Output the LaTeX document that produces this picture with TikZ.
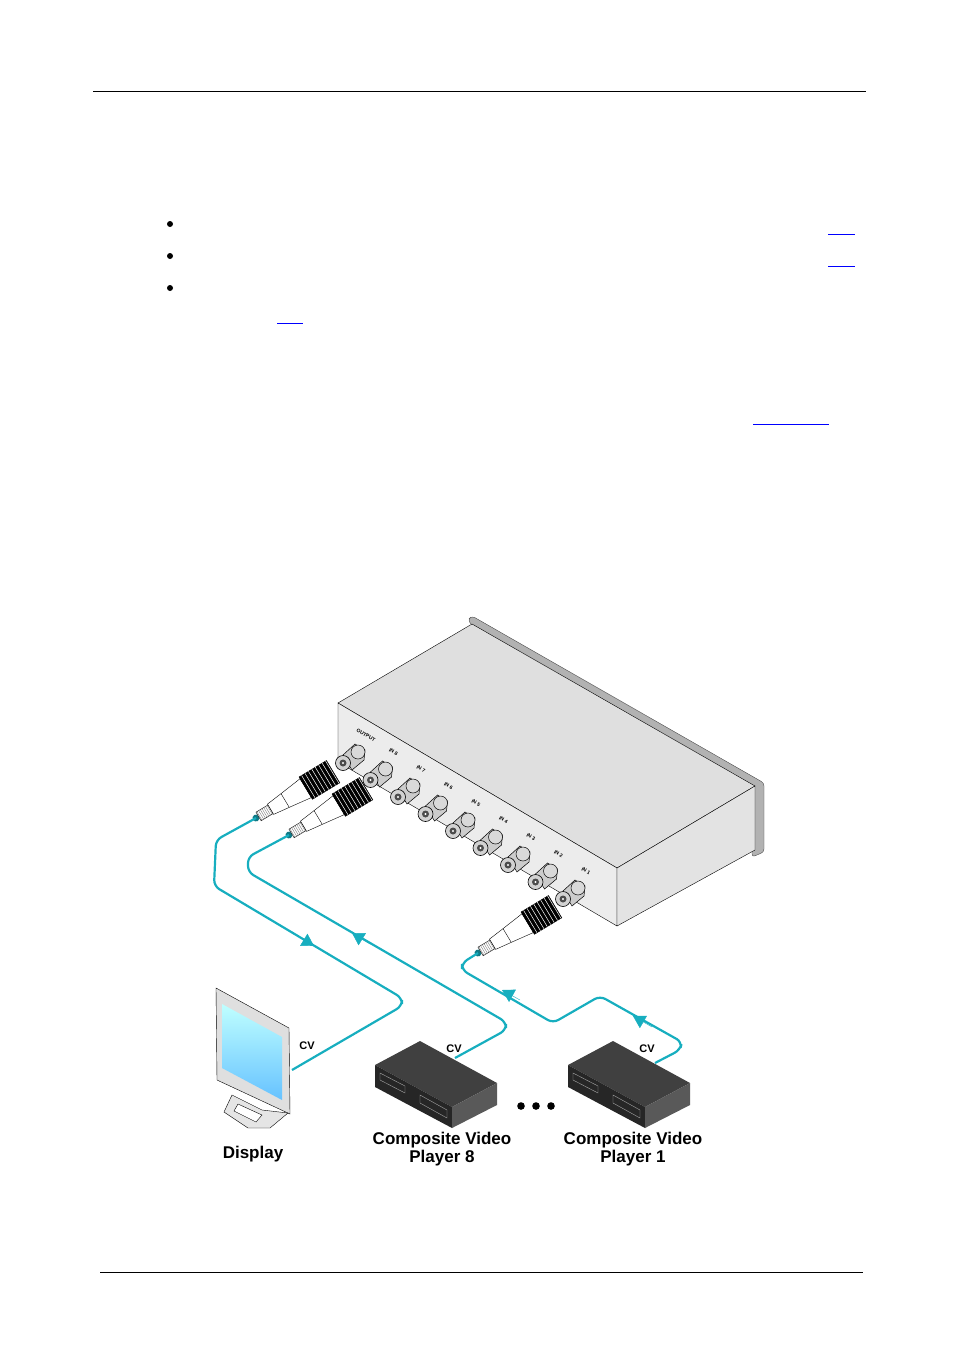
\documentclass[tikz,border=0pt]{standalone}
\usepackage{fontspec}
\setmainfont{Liberation Sans}
\usetikzlibrary{arrows.meta, positioning}
\definecolor{cvcable}{HTML}{17AEBF}
\definecolor{linkblue}{HTML}{0000FF}

\tikzset{
  cable/.style={cvcable, line width=2.2pt, rounded corners=6pt},
  flow/.style={cvcable, -{Triangle[length=12pt,width=14pt]}},
  jack/.style={circle, draw=black, fill=gray!35, line width=0.6pt, minimum size=15pt, inner sep=0pt},
  portlbl/.style={font=\bfseries\fontsize{5}{5}\selectfont, rotate=-30},
  cvlbl/.style={font=\bfseries\fontsize{11}{11}\selectfont},
  caption/.style={font=\bfseries\fontsize{17}{18}\selectfont, align=center},
}
\newcommand{\bncplug}[2]{%
  \begin{scope}[shift={#1}, rotate=#2]
    \fill[cvcable!70!black] (0,0) circle (3.5);
    \draw[fill=white] (3,-5) rectangle (17,5);
    \foreach \k in {4,6,...,16} \draw[gray] (\k,-5) -- (\k,5);
    \draw[fill=white] (17,-6) -- (34,-8) -- (58,-11) -- (58,11) -- (34,8) -- (17,6) -- cycle;
    \draw (34,-8) -- (34,8);
    \draw[fill=black] (58,-13) rectangle (90,13);
    \foreach \k in {61,65,...,89} \draw[white, line width=0.5pt] (\k,-13) -- (\k,13);
  \end{scope}}
\newcommand{\player}[2]{%
  \begin{scope}[shift={#1}]
    \fill[black!75] (0,25) -- (45,1) -- (122,43) -- (77,67) -- cycle;
    \fill[black!85] (0,25) -- (77,67) -- (77,88) -- (0,47) -- cycle;
    \fill[black!65] (77,67) -- (122,43) -- (122,65) -- (77,88) -- cycle;
    \draw[gray!70] (5,33) -- (30,46) -- (30,53) -- (5,40) -- cycle;
    \draw[gray!70] (45,55) -- (72,70) -- (72,78) -- (45,63) -- cycle;
    \node[cvlbl] (#2) at (79,9) {CV};
  \end{scope}}

\begin{document}
\begin{tikzpicture}[x=1pt, y=-1pt]
  \useasboundingbox (0,0) rectangle (954,1354);
  % page frame
  \draw[line width=0.6pt] (93,91) -- (866,91);
  \draw[line width=0.6pt] (100,1272) -- (863,1272);
  \foreach \y in {224,256,288} \fill (170,\y) circle (3);
  \foreach \a/\b/\y in {828/855/234, 828/855/266, 277/303/323, 753/829/424}
    \draw[linkblue, line width=0.6pt] (\a,\y) -- (\b,\y);

  % switcher body
  \draw[fill=gray!60, draw=black!70, rounded corners=3pt] (468,620) -- (472,616) -- (764,783) -- (764,852) -- (752,857) -- (752,790) -- (474,628) -- cycle;
  \draw[fill=gray!25] (338,703) -- (472,624) -- (755,786) -- (617,868) -- cycle;
  \draw[fill=gray!15] (338,703) -- (617,868) -- (617,926) -- (338,762) -- cycle;
  \draw[fill=gray!22] (617,868) -- (755,786) -- (755,850) -- (617,926) -- cycle;

  % inputs and output
  \foreach \n/\t [count=\i from 0] in {out/OUTPUT, in8/IN 8, in7/IN 7, in6/IN 6, in5/IN 5, in4/IN 4, in3/IN 3, in2/IN 2, in1/IN 1} {
    \draw[fill=gray!40, line width=0.5pt] (343+27.5*\i,755+17*\i) -- (355+27.5*\i,744+17*\i) -- (365+27.5*\i,750+17*\i) -- (364+27.5*\i,760+17*\i) -- (352+27.5*\i,770+17*\i) -- cycle;
    \draw[fill=gray!30, line width=0.5pt] (358+27.5*\i,752+17*\i) circle (7);
    \node[jack] (\n) at (343+27.5*\i,763+17*\i) {};
    \fill[black!70] (\n) circle (3.5);
    \fill[white] (\n) circle (1.2);
    \node[portlbl] at (366+27.5*\i,735+17*\i) {\t};
  }

  % plugs
  \bncplug{(256,818)}{31}
  \bncplug{(289,835)}{31}
  \bncplug{(478,953)}{31}
  \coordinate (plugOut) at (256,818);
  \coordinate (plug8) at (289,835);
  \coordinate (plug1) at (478,953);

  % display
  \draw[fill=gray!25] (216,988) -- (289,1028) -- (290,1114) -- (217,1080) -- cycle;
  \shade[top color=cyan!25, bottom color=cyan!60!blue!60] (222,1004) -- (282,1037) -- (282,1100) -- (222,1068) -- cycle;
  \draw[fill=gray!20] (232,1095) -- (262,1110) -- (288,1113) -- (270,1128) -- (248,1128) -- (224,1112) -- cycle;
  \draw[fill=white] (238,1104) -- (262,1115) -- (256,1122) -- (234,1111) -- cycle;
  \node[cvlbl] (cvDisp) at (307,1046) {CV};
  \coordinate (dispIn) at (292,1070);

  % players
  \player{(375,1040)}{cv8}
  \player{(568,1040)}{cv1}
  \coordinate (play8Out) at (455,1058);
  \coordinate (play1Out) at (655,1063);
  \foreach \x in {521,536,551} \fill (\x,1106) circle (3.8);

  % cables
  \draw[cable] (plugOut) -- (216,840) -- (214,886) -- (402,998) -- (402,1006) -- (dispIn);
  \draw[cable] (plug8) -- (248,857) -- (248,872) -- (506,1022) -- (506,1030) -- (play8Out);
  \draw[cable] (plug1) -- (462,963) -- (462,970) -- (553,1023) -- (600,996) -- (682,1042) -- (680,1050) -- (play1Out);
  \draw[flow] (296,935) -- (314,946);
  \draw[flow] (370,944) -- (352,933);
  \draw[flow] (520,1000) -- (502,990);
  \draw[flow] (652,1027) -- (633,1016);

  % captions
  \node[caption] (display) at (253,1154) {Display};
  \node[caption] (player8) at (442,1149) {Composite Video\\Player 8};
  \node[caption] (player1) at (633,1149) {Composite Video\\Player 1};
\end{tikzpicture}
\end{document}
